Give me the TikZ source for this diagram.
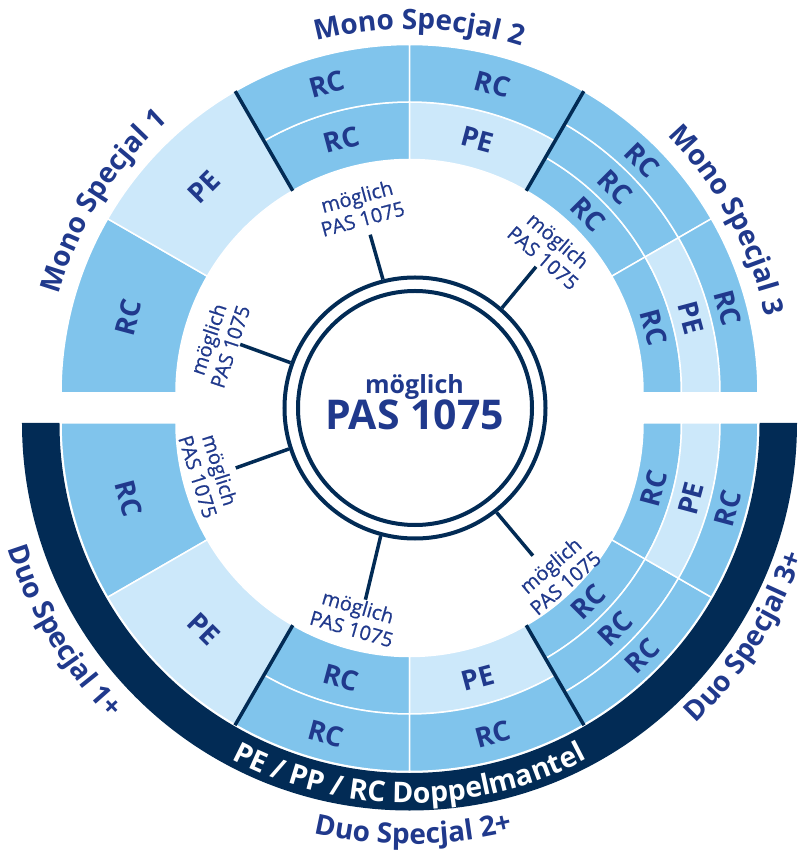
\documentclass[tikz,border=0pt]{standalone}
\usepackage{fontspec}
\setmainfont{Open Sans}
\newfontfamily\medfont{Open Sans}[FakeBold=0.6]
\usetikzlibrary{decorations.text}
\definecolor{rcblue}{RGB}{128,196,236}
\definecolor{pelight}{RGB}{204,232,250}
\definecolor{darknavy}{RGB}{2,43,85}
\definecolor{txtnavy}{RGB}{32,57,140}
\newcommand\ringcell[5]{\filldraw[cellstyle,fill=#5] (#1:#3pt) arc[start angle=#1,end angle=#2,radius=#3pt] -- (#2:#4pt) arc[start angle=#2,end angle=#1,radius=#4pt] -- cycle;}
\newcommand\grpfont{\fontsize{28}{30}\selectfont\bfseries}
\newcommand\bandfont{\fontsize{28.5}{30}\selectfont\bfseries}
\begin{document}
\begin{tikzpicture}[x=1pt,y=1pt,
  cellstyle/.style={draw=white, line width=1.5pt},
  celltext/.style={text=txtnavy, font=\fontsize{27.5}{27.5}\selectfont\bfseries, inner sep=0pt},
  divider/.style={draw=darknavy, line width=3.5pt},
  spoke/.style={draw=darknavy, line width=3.5pt},
  smalllab/.style={text=txtnavy, font=\fontsize{20}{23}\medfont, align=center, inner sep=0pt},
  hubring/.style={draw=darknavy, line width=4pt, circle, inner sep=0pt},
  hubtext/.style={text=txtnavy, anchor=base, inner sep=0pt}
]
\useasboundingbox (-409.5,-442) rectangle (399.5,408);

% ---------- top half ----------
\begin{scope}[shift={(0,15)}]
 \ringcell{150}{180}{233.5}{348.5}{rcblue}
 \ringcell{120}{150}{233.5}{348.5}{pelight}
 \ringcell{90}{120}{233.5}{291}{rcblue}
 \ringcell{90}{120}{291}{348.5}{rcblue}
 \ringcell{60}{90}{233.5}{291}{pelight}
 \ringcell{60}{90}{291}{348.5}{rcblue}
 \ringcell{30}{60}{233.5}{272}{rcblue}
 \ringcell{30}{60}{272}{310.5}{rcblue}
 \ringcell{30}{60}{310.5}{348.5}{rcblue}
 \ringcell{0}{30}{233.5}{272}{rcblue}
 \ringcell{0}{30}{272}{310.5}{pelight}
 \ringcell{0}{30}{310.5}{348.5}{rcblue}
 \draw[divider] (120:233.5pt) -- (120:348.5pt);
 \draw[divider] (60:233.5pt) -- (60:348.5pt);
 \node[celltext, rotate=75]  (t1)  at (165:291pt)    {RC};
 \node[celltext, rotate=45]  (t2)  at (135:291pt)    {PE};
 \node[celltext, rotate=15]  (t3)  at (105:262.25pt) {RC};
 \node[celltext, rotate=15]  (t4)  at (105:319.75pt) {RC};
 \node[celltext, rotate=-15] (t5)  at (75:262.25pt)  {PE};
 \node[celltext, rotate=-15] (t6)  at (75:319.75pt)  {RC};
 \node[celltext, rotate=-45] (t7)  at (45:252.75pt)  {RC};
 \node[celltext, rotate=-45] (t8)  at (45:291.25pt)  {RC};
 \node[celltext, rotate=-45] (t9)  at (45:329.5pt)   {RC};
 \node[celltext, rotate=-75] (t10) at (15:252.75pt)  {RC};
 \node[celltext, rotate=-75] (t11) at (15:291.25pt)  {PE};
 \node[celltext, rotate=-75] (t12) at (15:329.5pt)   {RC};
 \path[decorate, decoration={text along path, text={|\grpfont|Mono Specjal 1}, text align={center}, text color=txtnavy}]
   (188:364pt) arc[start angle=188, end angle=108, radius=364pt];
 \path[decorate, decoration={text along path, text={|\grpfont|Mono Specjal 2}, text align={center}, text color=txtnavy}]
   (128.5:364pt) arc[start angle=128.5, end angle=48.5, radius=364pt];
 \path[decorate, decoration={text along path, text={|\grpfont|Mono Specjal 3}, text align={center}, text color=txtnavy}]
   (68.5:364pt) arc[start angle=68.5, end angle=-11.5, radius=364pt];
\end{scope}

% ---------- bottom half ----------
\begin{scope}[shift={(0,-15)}]
 \fill[darknavy] (180:350pt) arc[start angle=180,end angle=360,radius=350pt] -- (0:387.5pt) arc[start angle=360,end angle=180,radius=387.5pt] -- cycle;
 \ringcell{180}{210}{233.5}{348.5}{rcblue}
 \ringcell{210}{240}{233.5}{348.5}{pelight}
 \ringcell{240}{270}{233.5}{291}{rcblue}
 \ringcell{240}{270}{291}{348.5}{rcblue}
 \ringcell{270}{300}{233.5}{291}{pelight}
 \ringcell{270}{300}{291}{348.5}{rcblue}
 \ringcell{300}{330}{233.5}{272}{rcblue}
 \ringcell{300}{330}{272}{310.5}{rcblue}
 \ringcell{300}{330}{310.5}{348.5}{rcblue}
 \ringcell{330}{360}{233.5}{272}{rcblue}
 \ringcell{330}{360}{272}{310.5}{pelight}
 \ringcell{330}{360}{310.5}{348.5}{rcblue}
 \draw[divider] (240:233.5pt) -- (240:349pt);
 \draw[divider] (300:233.5pt) -- (300:349pt);
 \node[celltext, rotate=-75] (b1)  at (195:291pt)    {RC};
 \node[celltext, rotate=-45] (b2)  at (225:291pt)    {PE};
 \node[celltext, rotate=-15] (b3)  at (255:264pt)    {RC};
 \node[celltext, rotate=-15] (b4)  at (255:322pt)    {RC};
 \node[celltext, rotate=15]  (b5)  at (285:264pt)    {PE};
 \node[celltext, rotate=15]  (b6)  at (285:322pt)    {RC};
 \node[celltext, rotate=45]  (b7)  at (315:252.75pt) {RC};
 \node[celltext, rotate=45]  (b8)  at (315:291.25pt) {RC};
 \node[celltext, rotate=45]  (b9)  at (315:329.5pt)  {RC};
 \node[celltext, rotate=75]  (b10) at (345:252.75pt) {RC};
 \node[celltext, rotate=75]  (b11) at (345:291.25pt) {PE};
 \node[celltext, rotate=75]  (b12) at (345:329.5pt)  {RC};
 \path[decorate, decoration={text along path, text={|\bandfont|PE / PP / RC Doppelmantel}, text align={center}, text color=white}]
   (-150:380pt) arc[start angle=-150, end angle=-30, radius=380pt];
 \path[decorate, decoration={text along path, text={|\grpfont|Duo Specjal 1+}, text align={center}, text color=txtnavy}]
   (-189:421pt) arc[start angle=-189, end angle=-109, radius=421pt];
 \path[decorate, decoration={text along path, text={|\grpfont|Duo Specjal 2+}, text align={center}, text color=txtnavy}]
   (-129.5:421pt) arc[start angle=-129.5, end angle=-49.5, radius=421pt];
 \path[decorate, decoration={text along path, text={|\grpfont|Duo Specjal 3+}, text align={center}, text color=txtnavy}]
   (-72.5:415pt) arc[start angle=-72.5, end angle=7.5, radius=415pt];
\end{scope}

% ---------- hub ----------
\node[hubring, minimum size=261pt] (hubouter) at (5.5,0) {};
\node[hubring, minimum size=234pt] (hubinner) at (5.5,0) {};
\node[hubtext, font=\fontsize{25}{25}\selectfont\bfseries] (hubword) at (5,14) {möglich};
\node[hubtext, font=\fontsize{41}{41}\selectfont\bfseries] (hubcode) at (5,-22) {PAS 1075};

% ---------- spokes and labels ----------
\path (hubouter.center) ++(104.5:179pt) coordinate (s1);
\path (hubouter.center) ++(49.4:186pt) coordinate (s2);
\path (hubouter.center) ++(160:186pt) coordinate (s3);
\path (hubouter.center) ++(198.5:189pt) coordinate (s4);
\path (hubouter.center) ++(255.5:198pt) coordinate (s5);
\path (hubouter.center) ++(308.6:189pt) coordinate (s6);
\draw[spoke] (hubouter.104.5) -- (s1);
\draw[spoke] (hubouter.49.4) -- (s2);
\draw[spoke] (hubouter.160) -- (s3);
\draw[spoke] (hubouter.198.5) -- (s4);
\draw[spoke] (hubouter.255.5) -- (s5);
\draw[spoke] (hubouter.308.6) -- (s6);
\path (hubouter.center) ++(105.4:208pt) node[smalllab, rotate=15] (m1) {möglich\\PAS 1075};
\path (hubouter.center) ++(49.5:209pt) node[smalllab, rotate=-40.5] (m2) {möglich\\PAS 1075};
\path (hubouter.center) ++(161.6:206.5pt) node[smalllab, rotate=71.6] (m3) {möglich\\PAS 1075};
\path (hubouter.center) ++(197.6:216pt) node[smalllab, rotate=-72.4] (m4) {möglich\\PAS 1075};
\path (hubouter.center) ++(254:218pt) node[smalllab, rotate=-16] (m5) {möglich\\PAS 1075};
\path (hubouter.center) ++(310.7:219pt) node[smalllab, rotate=40.7] (m6) {möglich\\PAS 1075};
\end{tikzpicture}
\end{document}
